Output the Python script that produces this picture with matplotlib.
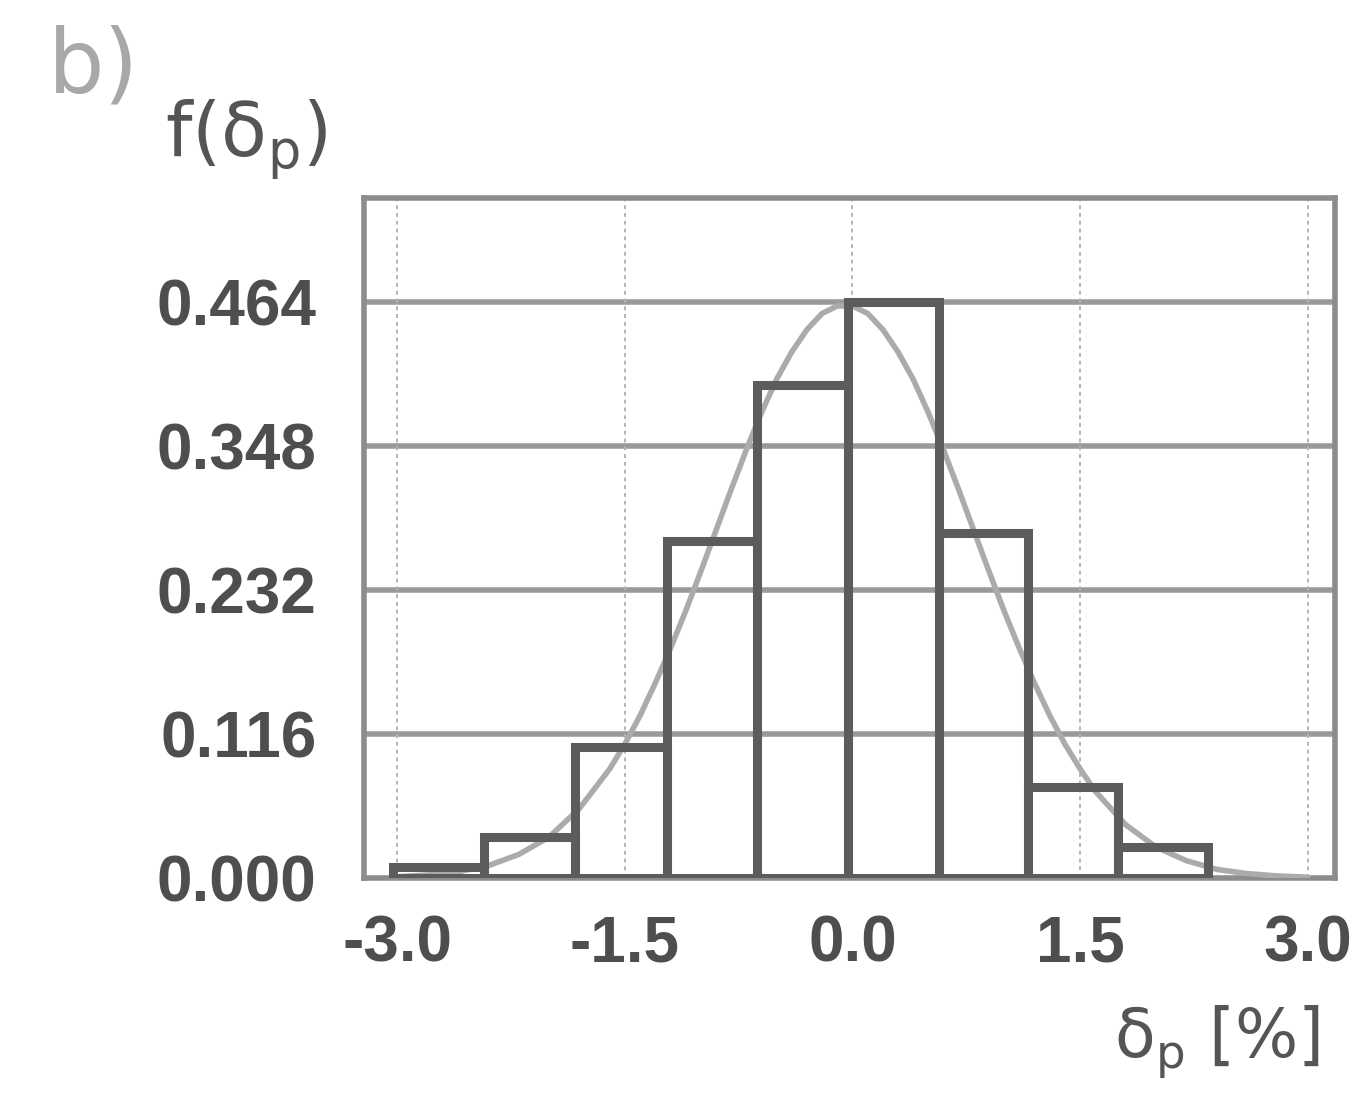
import matplotlib.pyplot as plt
import numpy as np

# histogram of the relative deviation delta_p [%]
bin_edges = [-3.03, -2.43, -1.83, -1.22, -0.63, -0.03, 0.57, 1.16, 1.75, 2.34]
bin_heights = [0.009, 0.033, 0.106, 0.272, 0.397, 0.464, 0.278, 0.073, 0.025]

# fitted density curve f(delta_p)
curve_x = [-3.0, -2.8, -2.6, -2.4, -2.2, -2.0, -1.8,
           -1.6, -1.5, -1.4, -1.3, -1.2, -1.1, -1.0, -0.9, -0.8, -0.7,
           -0.6, -0.5, -0.4, -0.3, -0.2, -0.1, 0.0, 0.1, 0.2, 0.3,
           0.4, 0.5, 0.6, 0.7, 0.8, 0.9, 1.0, 1.1, 1.2, 1.3, 1.4, 1.5, 1.6,
           1.8, 2.0, 2.2, 2.4, 2.6, 2.8, 3.0]
curve_y = [0.001, 0.0025, 0.005, 0.010, 0.019, 0.033, 0.056,
           0.088, 0.108, 0.131, 0.157, 0.185, 0.215, 0.247, 0.280, 0.313, 0.345,
           0.375, 0.402, 0.424, 0.442, 0.455, 0.461, 0.461, 0.455, 0.442, 0.424,
           0.402, 0.375, 0.345, 0.313, 0.280, 0.247, 0.215, 0.185, 0.157, 0.131,
           0.108, 0.088, 0.070,
           0.043, 0.025, 0.014, 0.007, 0.0036, 0.0017, 0.0007]

y_ticks = [0.0, 0.116, 0.232, 0.348, 0.464]
y_labels = ['0.000', '0.116', '0.232', '0.348', '0.464']
x_ticks = [-3.0, -1.5, 0.0, 1.5, 3.0]
x_labels = ['-3.0', '-1.5', '0.0', '1.5', '3.0']

tick_font = dict(family=['Liberation Sans', 'DejaVu Sans'],
                 weight='bold', size=46, color='#4e4e4e')

fig = plt.figure(figsize=(13.55, 10.94), dpi=100)
ax = fig.add_axes([0.2686, 0.1974, 0.7166, 0.6216])

ax.set_xlim(-3.22, 3.18)
ax.set_ylim(0, 0.548)

# grid: solid horizontal lines, dotted vertical ones
for y in y_ticks[1:]:
    ax.axhline(y, color='#9a9a9a', lw=4, zorder=1)
for x in x_ticks:
    ax.axvline(x, color='#b4b4b4', lw=1.4, ls=(0, (2, 2)), zorder=1)

ax.plot(curve_x, curve_y, color='#ababab', lw=4, zorder=3,
        solid_capstyle='round', solid_joinstyle='round')
ax.bar(bin_edges[:-1], bin_heights, width=np.diff(bin_edges), align='edge',
       fill=False, edgecolor='#5c5c5c', linewidth=6.5, zorder=4)

for s in ax.spines.values():
    s.set_color('#8c8c8c')
    s.set_linewidth(4)

ax.set_xticks(x_ticks)
ax.set_xticklabels(x_labels, fontdict=tick_font)
ax.set_yticks(y_ticks)
ax.set_yticklabels(y_labels, fontdict=tick_font)
ax.tick_params(axis='x', length=0, pad=26)
ax.tick_params(axis='y', length=0, pad=34)

fig.text(0.035, 0.938, 'b)', fontsize=64, color='#a8a8a8', va='center',
         ha='left')
fig.text(0.122, 0.857, r'$\mathregular{f(\delta_{p})}$', fontsize=54,
         color='#555555', va='baseline', ha='left')
fig.text(0.974, 0.033, r'$\mathregular{\delta_{p}\ [\%]}$', fontsize=48,
         color='#555555', va='baseline', ha='right')

fig.savefig('out.png', dpi=100, facecolor='white')
